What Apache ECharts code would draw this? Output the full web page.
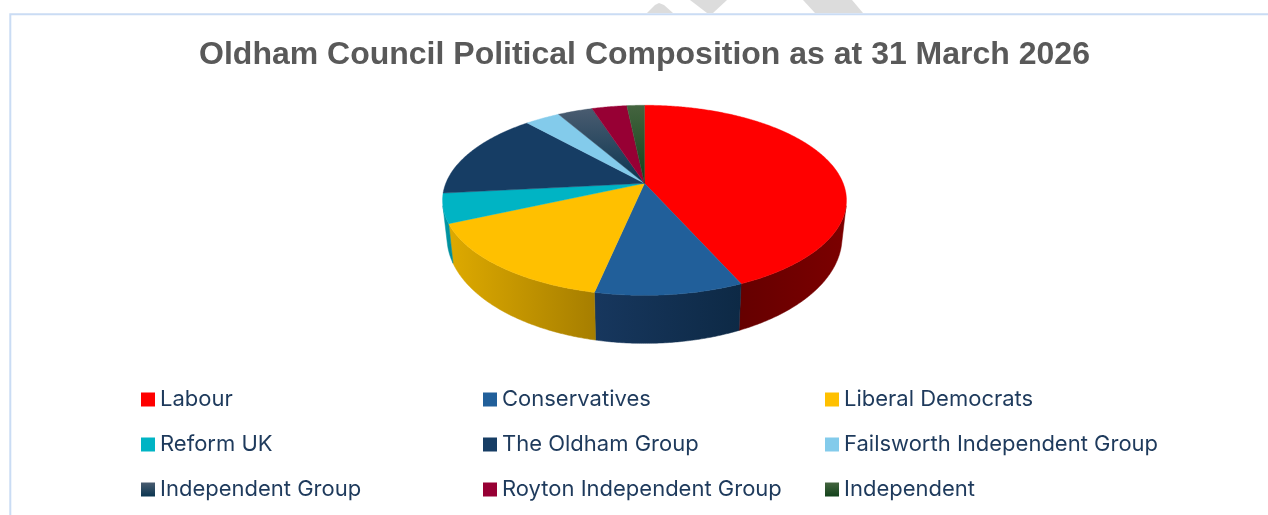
<!DOCTYPE html>
<html>
<head>
<meta charset="utf-8">
<style>html,body{margin:0;padding:0;background:#fff}#chart{width:1268px;height:515px}</style>
<script src="https://cdn.jsdelivr.net/npm/echarts@6/dist/echarts.min.js"></script>
</head>
<body>
<div id="chart"></div>
<script>
// Seats held by each group on the council
const parties = ['Labour', 'Conservatives', 'Liberal Democrats', 'Reform UK', 'The Oldham Group',
  'Failsworth Independent Group', 'Independent Group', 'Royton Independent Group', 'Independent'];
const seats = [26, 6, 9, 3, 9, 2, 2, 2, 1];

// Slice colours: top face, then wall shading from left to right
function fade(a, b, horizontal) {
  return { type: 'linear', x: 0, y: 0, x2: horizontal ? 1 : 0, y2: horizontal ? 0 : 1,
    colorStops: [{ offset: 0, color: a }, { offset: 1, color: b }] };
}
const topColours = ['#ff0000', '#215f9a', '#ffc000', '#00b4c4', '#163d64', '#83cbeb',
  fade('#4a5c70', '#0a3550'), '#970034', fade('#44643f', '#12421a')];
const wallColours = [fade('#650000', '#7c0000', true), fade('#17375e', '#0d2945', true),
  fade('#deaa00', '#a67e00', true), fade('#009aa8', '#008a98', true), '#102f4e', '#6aa8c4',
  '#0c3048', '#70002a', '#123a18'];

// Tilted-disc projection: the camera looks down from the front of the pie
const apex = { x: 644.5, y: 183.3 };
const radius = 198.7, squash = 92, perspective = 0.179;
const baseShrinkX = 0.978, baseStretchY = 1.117, baseDrop = 34.9;

function topPoint(deg) {
  const a = deg * Math.PI / 180;
  const u = Math.sin(a), v = -Math.cos(a);
  const s = 1 / (1 - perspective * v);
  return [apex.x + radius * u * s, apex.y + squash * v * s];
}
function basePoint(deg) {
  const p = topPoint(deg);
  return [apex.x + (p[0] - apex.x) * baseShrinkX, apex.y + baseDrop + (p[1] - apex.y) * baseStretchY];
}
// A wall is visible where its drop direction points out of the top rim
function wallFacesViewer(deg) {
  const p = topPoint(deg - 0.25), q = topPoint(deg + 0.25), t = topPoint(deg), b = basePoint(deg);
  const tx = q[0] - p[0], ty = q[1] - p[1];
  return ty * (b[0] - t[0]) - tx * (b[1] - t[1]) > 0;
}

const total = seats.reduce((sum, v) => sum + v, 0);
const starts = [];
seats.reduce((run, v, i) => { starts[i] = run; return run + v; }, 0);

function renderSlice(i) {
  return function () {
    const from = starts[i] / total * 360;
    const to = (starts[i] + seats[i]) / total * 360;
    const face = [[apex.x, apex.y]];
    const wallTop = [], wallBase = [];
    for (let d = from; d <= to + 1e-6; d += 0.5) {
      face.push(topPoint(d));
      if (wallFacesViewer(d)) { wallTop.push(topPoint(d)); wallBase.unshift(basePoint(d)); }
    }
    const children = [];
    if (wallTop.length > 1) {
      children.push({
        type: 'polygon', z2: 1,
        shape: { points: wallTop.concat(wallBase) },
        style: { fill: wallColours[i], stroke: wallColours[i], lineWidth: 0.5 }
      });
    }
    children.push({
      type: 'polygon', z2: 2,
      shape: { points: face },
      style: { fill: topColours[i], stroke: topColours[i], lineWidth: 0.4 }
    });
    return { type: 'group', children };
  };
}

const legendColumns = [0, 1, 2].map(c => parties.filter((_, i) => i % 3 === c));
const columnLeft = [141, 483, 825];

const chart = echarts.init(document.getElementById('chart'), null, { renderer: 'canvas' });
chart.setOption({
  animation: false,
  backgroundColor: '#ffffff',
  title: {
    text: 'Oldham Council Political Composition as at 31 March 2026',
    left: 639.5, top: 34, textAlign: 'center',
    textStyle: { fontFamily: 'Liberation Sans', fontWeight: 'bold', fontSize: 32, color: '#595959' }
  },
  legend: legendColumns.map((names, c) => ({
    data: names, orient: 'vertical', left: columnLeft[c], top: 388,
    icon: 'rect', itemWidth: 14, itemHeight: 14, itemGap: 22, padding: 0,
    selectedMode: false,
    textStyle: { fontFamily: 'Inter', fontSize: 22, color: '#1e3a5c', lineHeight: 23 }
  })),
  graphic: [
    { type: 'polygon', shape: { points: [[647, 13], [655, 5], [659, 3], [664, 5], [673, 13]] }, style: { fill: '#dcdcdc' } },
    { type: 'polygon', shape: { points: [[690, 0], [727, 0], [713, 13], [707, 13]] }, style: { fill: '#dcdcdc' } },
    { type: 'polygon', shape: { points: [[803, 0], [852, 0], [863, 13], [815, 13]] }, style: { fill: '#dcdcdc' } },
    { type: 'polyline', z: 5, shape: { points: [[10.3, 515], [10.3, 14.3], [1268, 14.3]] },
      style: { stroke: '#cadcf4', lineWidth: 2, fill: 'none' } }
  ],
  series: parties.map((name, i) => ({
    type: 'custom', name, coordinateSystem: 'none', silent: true,
    data: [seats[i]],
    itemStyle: { color: topColours[i] },
    renderItem: renderSlice(i)
  }))
});
</script>
</body>
</html>
